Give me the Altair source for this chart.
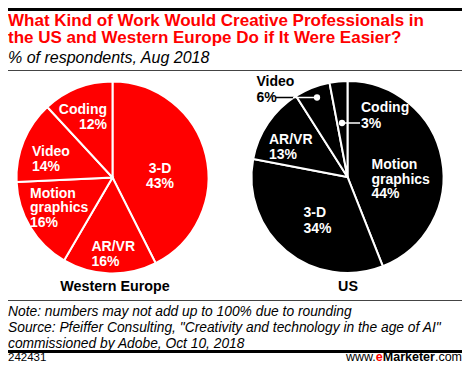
import altair as alt
import pandas as pd

# ---- data ----
we_cats = ["3-D", "AR/VR", "Motion graphics", "Video", "Coding"]
we_vals = [43, 16, 16, 14, 12]
us_cats = ["Motion graphics", "3-D", "AR/VR", "Video", "Coding"]
us_vals = [44, 34, 13, 6, 3]

title_lines = ["What Kind of Work Would Creative Professionals in",
               "the US and Western Europe Do if It Were Easier?"]
subtitle = "% of respondents, Aug 2018"
pie_names = ["Western Europe", "US"]
notes = ["Note: numbers may not add up to 100% due to rounding",
         "Source: Pfeiffer Consulting, \"Creativity and technology in the age of AI\"",
         "commissioned by Adobe, Oct 10, 2018"]
chart_id = "242431"

# ---- style / layout ----
FONT = "Liberation Sans"
RED = "#ff0000"
W, H = 454, 355
R = 96
WE_C = (104.5, 169.5)
US_C = (339.5, 169)

# label layout: category -> (x, first baseline, align, color, line height)
we_lab = {
    "3-D": (152, 164.5, "center", "white", 15),
    "AR/VR": (83.5, 243, "left", "white", 15),
    "Motion graphics": (22, 189.5, "left", "white", 14.5),
    "Video": (24, 148, "left", "white", 15),
    "Coding": (99, 106, "right", "white", 15),
}
us_lab = {
    "Motion graphics": (363.5, 161, "left", "white", 14.7),
    "3-D": (295.5, 209, "left", "white", 15.5),
    "AR/VR": (261, 136, "left", "white", 14.5),
    "Video": (248.5, 77.5, "left", "black", 16),
    "Coding": (353, 104, "left", "white", 15.5),
}

one = alt.Data(values=[{}])


def txt(s, x, y, size, color="black", weight="normal", align="left", style="normal"):
    return alt.Chart(one).mark_text(
        font=FONT, fontSize=size, fontWeight=weight, fontStyle=style,
        color=color, align=align, baseline="alphabetic"
    ).encode(text=alt.value(s), x=alt.value(x), y=alt.value(y))


def rule(x1, x2, y, color, width):
    return alt.Chart(one).mark_rule(color=color, strokeWidth=width).encode(
        x=alt.value(x1), x2=alt.value(x2), y=alt.value(y))


def dot(x, y):
    return alt.Chart(one).mark_point(filled=True, size=40, color="white", opacity=1).encode(
        x=alt.value(x), y=alt.value(y))


def pie(cats, vals, center, color):
    df = pd.DataFrame({"cat": cats, "val": vals, "ord": list(range(len(cats)))})
    return alt.Chart(df).mark_arc(outerRadius=R, stroke="white", strokeWidth=2, color=color).encode(
        theta=alt.Theta("val:Q", stack=True),
        order=alt.Order("ord:Q", sort="ascending"),
        x=alt.value(center[0]), y=alt.value(center[1]),
    )


layers = []
layers.append(rule(0, W, 1.5, "black", 3))
layers.append(txt(title_lines[0], 0, 17.8, 17, RED, "bold"))
layers.append(txt(title_lines[1], 0, 34.8, 17, RED, "bold"))
layers.append(txt(subtitle, 0, 54.5, 16, "black", "normal", style="italic"))
layers.append(rule(0, W, 62.5, "#444", 1))

layers.append(pie(we_cats, we_vals, WE_C, RED))
layers.append(pie(us_cats, us_vals, US_C, "black"))

for cats, vals, lab in ((we_cats, we_vals, we_lab), (us_cats, us_vals, us_lab)):
    for c, v in zip(cats, vals):
        x, y0, al, col, lh = lab[c]
        lines = c.split(" ") + [f"{v}%"]
        for i, s in enumerate(lines):
            layers.append(txt(s, x, y0 + i * lh, 14, col, "bold", al))

# callouts (US Video, US Coding)
layers.append(rule(268, 286, 89.5, "black", 1.5))
layers.append(rule(285, 309, 89.5, "white", 1.5))
layers.append(dot(309, 89.5))
layers.append(rule(334, 352, 115, "white", 1.5))
layers.append(dot(334, 115))

layers.append(txt(pie_names[0], 107, 283, 14.3, "black", "bold", "center"))
layers.append(txt(pie_names[1], 340, 283, 14.3, "black", "bold", "center"))

layers.append(rule(0, W, 292.5, "#444", 1))
for i, n in enumerate(notes):
    layers.append(txt(n, 0, 307.5 + i * 16, 13.8, "black", "normal", style="italic"))
layers.append(rule(0, W, 343.5, "black", 3))

FY = 352.5
layers.append(txt(chart_id, 0, FY, 11.5))
# www.eMarketer.com, right aligned
layers.append(txt(".com", W, FY, 12.5, "black", "normal", "right"))
layers.append(txt("Marketer", W - 27.1, FY, 12.5, "black", "bold", "right"))
layers.append(txt("e", W - 27.1 - 52.1, FY, 12.5, RED, "bold", "right"))
layers.append(txt("www.", W - 27.1 - 52.1 - 7.0, FY, 12.5, "black", "normal", "right"))

chart = alt.layer(*layers).resolve_scale(theta="independent").properties(
    width=W, height=H,
    autosize=alt.AutoSizeParams(type="none"),
    padding=0,
).configure_view(stroke=None)

chart.save("out.html", embed_options={"renderer": "svg", "actions": False})
